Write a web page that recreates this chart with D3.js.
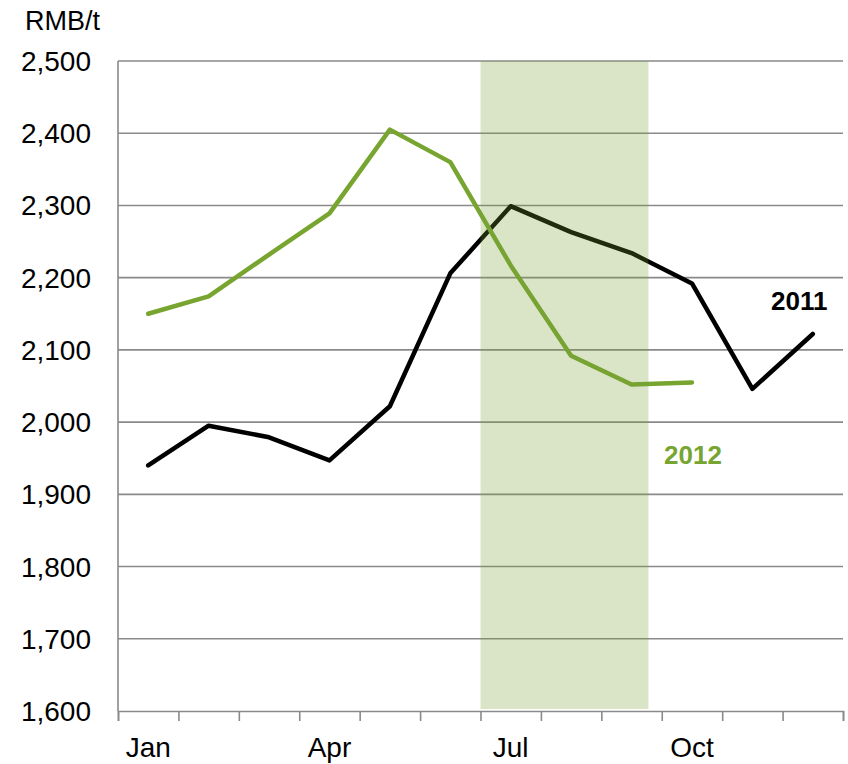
<!DOCTYPE html>
<html>
<head>
<meta charset="utf-8">
<script src="https://cdn.jsdelivr.net/npm/d3@7"></script>
<style>
  body { margin: 0; background: #fff; }
  svg text { font-family: "Liberation Sans", Arial, sans-serif; }
</style>
</head>
<body>
<div id="chart"></div>
<script>
// monthly prices, RMB/t
const months = ["Jan","Feb","Mar","Apr","May","Jun","Jul","Aug","Sep","Oct","Nov","Dec"];
const tickMonths = ["Jan","Apr","Jul","Oct"];
const price2011 = [1940, 1995, 1979, 1947, 2022, 2206, 2299, 2263, 2234, 2192, 2046, 2122];
const price2012 = [2150, 2174, 2232, 2289, 2405, 2360, 2217, 2092, 2052, 2055];
const yTicks = [1600, 1700, 1800, 1900, 2000, 2100, 2200, 2300, 2400, 2500];
// shaded period, in month units (0 = start of Jan)
const shadeFrom = 6, shadeTo = 8.78;

let width = 848, height = 764;
let margin = {top: 61, right: 5, bottom: 53, left: 118};

let svg = d3.select("#chart").append("svg")
    .attr("width", width)
    .attr("height", height);

let x = d3.scaleLinear()   // month index -> px, bands of one month
    .domain([0, 12])
    .range([margin.left, width - margin.right]);

let y = d3.scaleLinear()
    .domain([1600, 2500])
    .range([height - margin.bottom, margin.top]);

// gridlines
svg.append("g")
    .selectAll("line")
    .data(yTicks.slice(1))
    .enter().append("line")
    .attr("x1", x(0)).attr("x2", x(12))
    .attr("y1", d => y(d)).attr("y2", d => y(d))
    .attr("stroke", "#8a8a8a")
    .attr("stroke-width", 1.6);

// y tick labels
svg.append("g")
    .selectAll("text")
    .data(yTicks)
    .enter().append("text")
    .attr("x", 91)
    .attr("y", d => y(d) + 10)
    .attr("text-anchor", "end")
    .attr("font-size", 28)
    .text(d => d3.format(",")(d));

svg.append("text")
    .attr("x", 25).attr("y", 30)
    .attr("font-size", 27)
    .text("RMB/t");

// axes lines
svg.append("line")
    .attr("x1", x(0)).attr("x2", x(0))
    .attr("y1", y(2500)).attr("y2", y(1600))
    .attr("stroke", "#8a8a8a").attr("stroke-width", 1.6);

let xAxis = d3.axisBottom(x)
    .tickValues(d3.range(0, 13))
    .tickSize(10)
    .tickFormat("");

let gx = svg.append("g")
    .attr("transform", `translate(0,${y(1600)})`)
    .call(xAxis);
gx.select(".domain").attr("stroke", "#8a8a8a").attr("stroke-width", 1.6);
gx.selectAll(".tick line").attr("stroke", "#8a8a8a").attr("stroke-width", 1.6);

svg.append("g")
    .selectAll("text")
    .data(tickMonths)
    .enter().append("text")
    .attr("x", d => x(months.indexOf(d) + 0.5))
    .attr("y", 757)
    .attr("text-anchor", "middle")
    .attr("font-size", 28)
    .text(d => d);

let line = d3.line()
    .x((d, i) => x(i + 0.5))
    .y(d => y(d));

svg.append("path")
    .datum(price2011)
    .attr("d", line)
    .attr("fill", "none")
    .attr("stroke", "#000")
    .attr("stroke-width", 4.5)
    .attr("stroke-linejoin", "round")
    .attr("stroke-linecap", "round");

svg.append("path")
    .datum(price2012)
    .attr("d", line)
    .attr("fill", "none")
    .attr("stroke", "#77a530")
    .attr("stroke-width", 4.5)
    .attr("stroke-linejoin", "round")
    .attr("stroke-linecap", "round");

// shaded period sits on top, see-through
svg.append("rect")
    .attr("x", x(shadeFrom))
    .attr("y", y(2500))
    .attr("width", x(shadeTo) - x(shadeFrom))
    .attr("height", y(1600) - y(2500) - 2)
    .attr("fill", "#77a032")
    .attr("fill-opacity", 0.27);

// series labels
svg.append("text")
    .attr("x", 771).attr("y", 310)
    .attr("font-size", 26).attr("font-weight", "bold")
    .attr("fill", "#000")
    .text("2011");

svg.append("text")
    .attr("x", 664).attr("y", 464)
    .attr("font-size", 26).attr("font-weight", "bold")
    .attr("fill", "#76a531")
    .text("2012");
</script>
</body>
</html>
